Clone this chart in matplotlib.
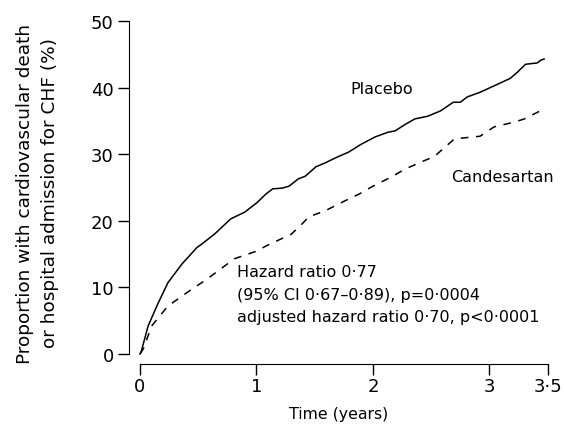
import matplotlib
matplotlib.use("Agg")
from matplotlib import pyplot as plt

plt.rcParams['font.family'] = ['DejaVu Sans']

placebo_t = [0, 0.01, 0.07, 0.15, 0.24, 0.36, 0.49, 0.53, 0.64, 0.78, 0.90, 1.01, 1.08, 1.14,
             1.22, 1.28, 1.36, 1.42, 1.51, 1.59, 1.71, 1.79, 1.90, 2.02, 2.13, 2.19, 2.28,
             2.36, 2.47, 2.58, 2.69, 2.75, 2.81, 2.92, 3.07, 3.18, 3.24, 3.31, 3.41, 3.44, 3.47]
placebo_v = [0, 0.3, 4.2, 7.4, 10.7, 13.5, 16.0, 16.5, 18.0, 20.3, 21.3, 22.8, 24.0, 24.8,
             24.9, 25.2, 26.3, 26.7, 28.1, 28.7, 29.7, 30.3, 31.5, 32.6, 33.3, 33.5, 34.5,
             35.3, 35.7, 36.5, 37.8, 37.8, 38.6, 39.3, 40.5, 41.4, 42.3, 43.5, 43.7, 44.1, 44.3]

cand_t = [0, 0.03, 0.10, 0.24, 0.41, 0.58, 0.81, 1.01, 1.08, 1.30, 1.39, 1.45, 1.59, 1.76,
          1.88, 1.99, 2.16, 2.28, 2.53, 2.70, 2.92, 3.04, 3.21, 3.30, 3.47]
cand_v = [0, 0.8, 4.2, 7.2, 9.3, 11.3, 14.3, 15.5, 16.2, 18.0, 19.5, 20.6, 21.5, 23.0,
          24.0, 25.1, 26.6, 27.8, 29.7, 32.3, 32.7, 34.1, 34.8, 35.3, 36.8]

x_ticks = [0, 1, 2, 3, 3.5]
x_labels = ["0", "1", "2", "3", "3·5"]
y_ticks = [0, 10, 20, 30, 40, 50]

fig = plt.figure(figsize=(5.64, 4.27), dpi=100)
ax = fig.add_axes([0.2287, 0.1452, 0.971 - 0.2287, 0.9485 - 0.1452])

ax.plot(placebo_t, placebo_v, "-", color="black", lw=1.1)
ax.plot(cand_t, cand_v, color="black", lw=1.1, linestyle=(0, (5, 5)))

ax.set_xlim(-0.094, 3.5)
ax.set_ylim(-1.5, 50)
for s in ["top", "right"]:
    ax.spines[s].set_visible(False)
ax.spines["left"].set_bounds(0, 50)
ax.spines["bottom"].set_bounds(0, 3.5)
ax.set_xticks(x_ticks)
ax.set_xticklabels(x_labels)
ax.set_yticks(y_ticks)
ax.tick_params(axis="both", direction="out", length=8, width=1, labelsize=13, pad=3)
ax.tick_params(axis="x", pad=1.5)

ax.set_xlabel("Time (years)", fontsize=11.3, labelpad=8)
ax.set_ylabel("Proportion with cardiovascular death\nor hospital admission for CHF (%)",
              fontsize=13.3, labelpad=23, linespacing=1.5)

ax.text(1.81, 39.9, "Placebo", fontsize=11.5, va="center", ha="left")
ax.text(3.55, 26.6, "Candesartan", fontsize=11.5, va="center", ha="right")
ax.text(0.83, 13.45, "Hazard ratio 0·77\n(95% CI 0·67–0·89), p=0·0004\nadjusted hazard ratio 0·70, p<0·0001",
        fontsize=11.5, va="top", ha="left", linespacing=1.6)

fig.savefig("out.png", dpi=100)
